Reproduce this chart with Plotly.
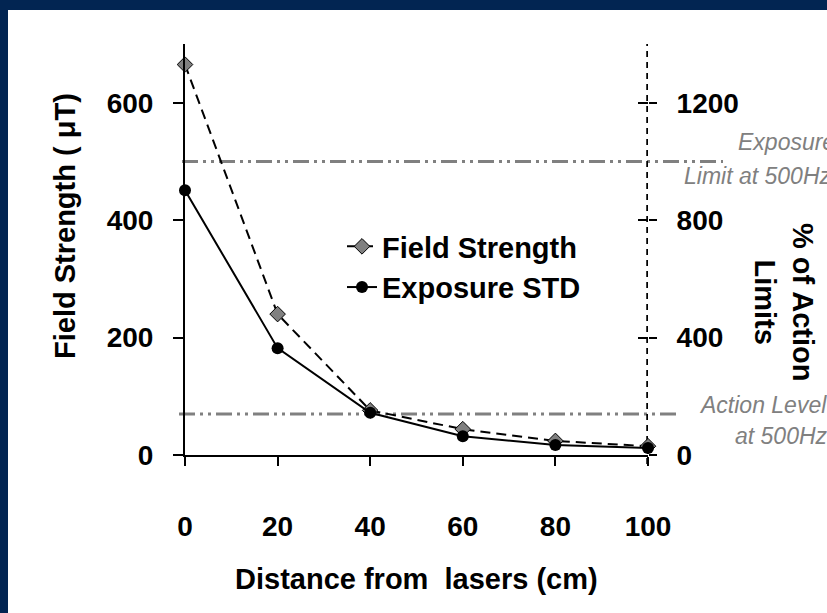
import plotly.graph_objects as go

# ---- data ----
distance_cm = [0, 20, 40, 60, 80, 100]
field_strength = [665, 240, 76, 44, 24, 15]
exposure_std = [451, 182, 72, 32, 17, 12]

left_ticks = [0, 200, 400, 600]
right_ticks = [0, 400, 800, 1200]
x_ticks = [0, 20, 40, 60, 80, 100]

exposure_limit = 500   # uT
action_level = 70      # uT

W, H = 827, 613
L, R, T, B = 185, 648, 44, 455  # plot area in px

def px_x(px):
    return (px - L) / (R - L)

def px_y(py):
    return (B - py) / (B - T)

FONT = "Liberation Sans, Arial, sans-serif"
NAVY = "#022552"
GRAY = "#808080"

fig = go.Figure()

fig.add_trace(go.Scatter(
    x=distance_cm, y=field_strength, name="<b>Field Strength</b>",
    mode="lines+markers",
    line=dict(color="black", width=2, dash="10px,6px"),
    marker=dict(symbol="diamond", size=12, color=GRAY,
                line=dict(color="black", width=1)),
    cliponaxis=False,
))
fig.add_trace(go.Scatter(
    x=distance_cm, y=exposure_std, name="<b>Exposure STD</b>",
    mode="lines+markers",
    line=dict(color="black", width=2),
    marker=dict(symbol="circle", size=12, color="black"),
    cliponaxis=False,
))

tickfont = dict(family=FONT, size=28, color="black")

def bold(vals):
    return ["<b>%d</b>" % v for v in vals]

fig.update_layout(
    width=W, height=H,
    margin=dict(l=L, r=W - R, t=T, b=H - B, pad=0),
    paper_bgcolor="white", plot_bgcolor="rgba(0,0,0,0)",
    font=dict(family=FONT, color="black"),
    showlegend=True,
    legend=dict(
        x=px_x(342), y=px_y(221), xanchor="left", yanchor="top",
        bgcolor="rgba(0,0,0,0)", borderwidth=0,
        font=dict(family=FONT, size=29, color="black"),
        tracegroupgap=0, itemwidth=30,
    ),
    xaxis=dict(
        range=[0, 100], tickvals=x_ticks, ticktext=bold(x_ticks),
        showgrid=False, zeroline=False,
        showline=True, linecolor="black", linewidth=2,
        ticks="outside", ticklen=9, tickwidth=2, tickcolor="black",
        tickfont=tickfont, ticklabelstandoff=36,
    ),
    yaxis=dict(
        range=[0, 700], tickvals=left_ticks, ticktext=bold(left_ticks),
        showgrid=False, zeroline=False,
        showline=True, linecolor="black", linewidth=2,
        ticks="outside", ticklen=10, tickwidth=2, tickcolor="black",
        tickfont=tickfont, ticklabelstandoff=14,
    ),
    yaxis2=dict(
        range=[0, 1400], tickvals=right_ticks, ticktext=bold(right_ticks),
        overlaying="y", side="right", anchor="x",
        showgrid=False, zeroline=False, showline=False,
        ticks="outside", ticklen=8, tickwidth=1.5, tickcolor="black",
        tickfont=tickfont, ticklabelstandoff=14,
    ),
    yaxis3=dict(
        range=[0, 1400], tickvals=right_ticks, showticklabels=False,
        overlaying="y", side="right", anchor="x",
        showgrid=False, zeroline=False, showline=False,
        ticks="inside", ticklen=10, tickwidth=1.5, tickcolor="black",
    ),
)

# invisible traces to activate the right axes
fig.add_trace(go.Scatter(x=[distance_cm[0]], y=[right_ticks[0]], yaxis="y2",
                         mode="markers", marker=dict(opacity=0),
                         showlegend=False, hoverinfo="skip"))
fig.add_trace(go.Scatter(x=[distance_cm[0]], y=[right_ticks[0]], yaxis="y3",
                         mode="markers", marker=dict(opacity=0),
                         showlegend=False, hoverinfo="skip"))

dashdot = "16px,5px,3px,5px,3px,5px"
shapes = [
    dict(type="line", xref="paper", yref="y", x0=px_x(182), x1=px_x(723),
         y0=exposure_limit, y1=exposure_limit,
         line=dict(color=GRAY, width=3, dash=dashdot), layer="below"),
    dict(type="line", xref="paper", yref="y", x0=px_x(179), x1=px_x(678),
         y0=action_level, y1=action_level,
         line=dict(color=GRAY, width=3, dash=dashdot), layer="below"),
    dict(type="line", xref="x", yref="paper", x0=100, x1=100,
         y0=px_y(464), y1=px_y(44),
         line=dict(color="black", width=3.5, dash="6px,5px"), layer="below"),
    dict(type="rect", xref="paper", yref="paper",
         x0=px_x(0), x1=px_x(W), y0=px_y(10), y1=px_y(0),
         fillcolor=NAVY, line=dict(width=0), layer="above"),
    dict(type="rect", xref="paper", yref="paper",
         x0=px_x(0), x1=px_x(8), y0=px_y(H), y1=px_y(0),
         fillcolor=NAVY, line=dict(width=0), layer="above"),
]
fig.update_layout(shapes=shapes)

title_font = dict(family=FONT, size=29, color="black")
lim_font = dict(family=FONT, size=23, color=GRAY, style="italic")
annotations = [
    dict(text="<b>Field Strength ( μT)</b>", x=px_x(65), y=px_y(226),
         xref="paper", yref="paper", textangle=-90, showarrow=False,
         font=title_font, xanchor="center", yanchor="middle"),
    dict(text="<b>Distance from  lasers (cm)</b>", x=px_x(416), y=px_y(579),
         xref="paper", yref="paper", showarrow=False,
         font=title_font, xanchor="center", yanchor="middle"),
    dict(text="<b>% of Action<br>Limits</b>", x=px_x(784), y=px_y(302),
         xref="paper", yref="paper", textangle=90, showarrow=False,
         font=title_font, xanchor="center", yanchor="middle"),
    dict(text="Exposure", x=px_x(736), y=px_y(142), xref="paper", yref="paper",
         showarrow=False, font=lim_font, xanchor="left", yanchor="middle"),
    dict(text="Limit at 500Hz", x=px_x(682), y=px_y(176), xref="paper", yref="paper",
         showarrow=False, font=lim_font, xanchor="left", yanchor="middle"),
    dict(text="Action Level", x=px_x(697), y=px_y(405), xref="paper", yref="paper",
         showarrow=False, font=lim_font, xanchor="left", yanchor="middle"),
    dict(text="at 500Hz", x=px_x(733), y=px_y(436), xref="paper", yref="paper",
         showarrow=False, font=lim_font, xanchor="left", yanchor="middle"),
]
fig.update_layout(annotations=annotations)

fig.write_html("out.html")
